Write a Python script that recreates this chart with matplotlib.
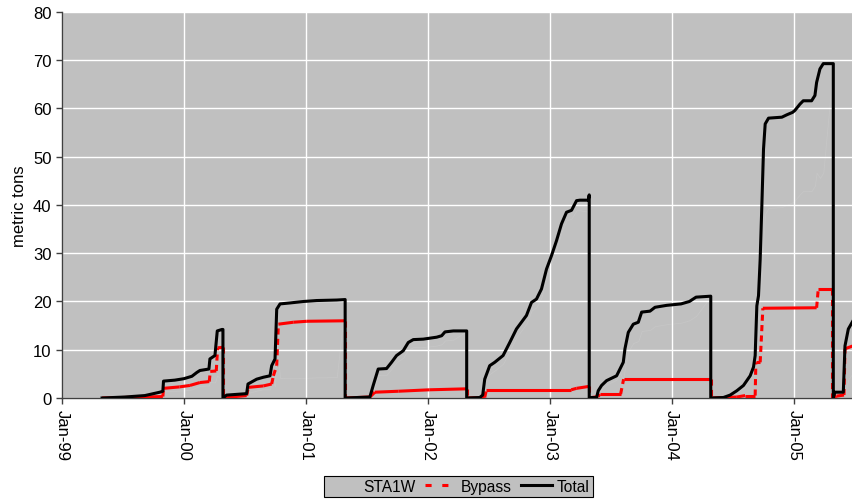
import numpy as np
import pandas as pd
import matplotlib
matplotlib.use("Agg")
import matplotlib.pyplot as plt
import matplotlib.dates as mdates
from matplotlib.collections import LineCollection
from matplotlib.lines import Line2D
from matplotlib.patches import Patch

plt.rcParams["font.family"] = ["Liberation Sans", "DejaVu Sans"]

# cumulative load per water year (May - April), metric tons
total_dates = [
    "1999-05-01", "1999-07-08", "1999-09-06", "1999-10-21", "1999-10-30", "1999-11-01",
    "1999-12-05", "2000-01-01", "2000-01-25", "2000-02-09", "2000-02-18", "2000-03-16",
    "2000-03-19", "2000-04-03", "2000-04-10", "2000-04-24", "2000-04-27", "2000-04-27",
    "2000-05-08", "2000-07-07", "2000-07-11", "2000-08-06", "2000-08-26", "2000-09-15",
    "2000-09-20", "2000-09-30", "2000-10-05", "2000-10-15", "2000-11-14", "2000-12-24",
    "2001-02-02", "2001-04-03", "2001-04-28", "2001-04-28",
    "2001-07-11", "2001-07-21", "2001-08-05", "2001-08-30", "2001-09-14", "2001-09-29",
    "2001-10-19", "2001-11-03", "2001-11-18", "2001-12-18", "2002-01-27", "2002-02-11",
    "2002-02-21", "2002-03-18", "2002-04-27", "2002-04-27",
    "2002-06-05", "2002-06-14", "2002-06-20", "2002-07-05", "2002-07-20", "2002-08-14",
    "2002-09-03", "2002-09-23", "2002-10-23", "2002-11-07", "2002-11-22", "2002-12-07",
    "2002-12-22", "2003-01-06", "2003-01-21", "2003-02-05", "2003-02-20", "2003-03-07",
    "2003-03-22", "2003-04-01", "2003-04-26", "2003-04-29", "2003-04-29",
    "2003-05-06", "2003-05-21", "2003-05-26", "2003-06-05", "2003-06-20", "2003-07-05",
    "2003-07-20", "2003-07-30", "2003-08-09", "2003-08-14", "2003-08-24", "2003-09-08",
    "2003-09-23", "2003-10-03", "2003-10-28", "2003-11-12", "2003-12-17", "2004-01-29",
    "2004-02-23", "2004-03-14", "2004-04-27", "2004-04-27",
    "2004-06-04", "2004-06-24", "2004-07-14", "2004-08-03", "2004-08-23", "2004-09-02",
    "2004-09-07", "2004-09-12", "2004-09-17", "2004-09-22", "2004-09-27", "2004-10-02",
    "2004-10-07", "2004-10-17", "2004-11-26", "2004-12-11", "2004-12-28", "2005-01-04",
    "2005-01-19", "2005-01-29", "2005-02-23", "2005-03-05", "2005-03-10", "2005-03-20",
    "2005-03-30", "2005-04-29", "2005-04-29",
    "2005-05-04", "2005-05-29", "2005-06-03", "2005-06-13", "2005-06-27",
]
total_vals = [
    0.0, 0.2, 0.5, 1.2, 1.4, 3.5,
    3.7, 4.0, 4.5, 5.3, 5.7, 6.0,
    8.1, 8.8, 13.9, 14.2, 14.2, 0.0,
    0.6, 0.9, 2.9, 3.9, 4.3, 4.6,
    6.7, 8.1, 18.4, 19.5, 19.7, 20.0,
    20.2, 20.3, 20.4, 0.0,
    0.2, 2.6, 6.0, 6.1, 7.4, 8.8,
    9.8, 11.5, 12.1, 12.2, 12.6, 12.9,
    13.7, 13.9, 13.9, 0.0,
    0.1, 0.6, 3.9, 6.7, 7.4, 8.8,
    11.5, 14.3, 17.1, 19.8, 20.5, 22.6,
    26.7, 29.5, 32.6, 36.1, 38.5, 38.9,
    40.9, 41.0, 41.0, 42.1, 0.0,
    0.1, 0.1, 1.5, 2.6, 3.6, 4.1,
    4.6, 6.0, 7.4, 10.2, 13.6, 15.3,
    15.7, 17.8, 18.0, 18.8, 19.2, 19.5,
    20.0, 20.9, 21.1, 0.0,
    0.1, 0.6, 1.5, 2.6, 4.6, 6.4,
    8.8, 19.1, 21.2, 28.8, 39.9, 51.6,
    56.8, 58.0, 58.2, 58.7, 59.2, 59.6,
    60.9, 61.6, 61.6, 62.7, 65.4, 68.2,
    69.3, 69.3, 0.0,
    1.2, 1.2, 10.8, 14.3, 16.0,
]

bypass_dates = [
    "1999-05-01", "1999-10-30", "1999-11-01", "1999-12-19", "2000-01-19", "2000-02-18",
    "2000-03-17", "2000-03-20", "2000-04-07", "2000-04-11", "2000-04-27", "2000-04-27",
    "2000-05-01", "2000-07-07", "2000-07-12", "2000-08-26", "2000-09-20", "2000-09-25",
    "2000-10-05", "2000-10-10", "2000-11-24", "2001-01-03", "2001-04-28", "2001-04-28",
    "2001-07-11", "2001-07-26", "2001-10-05", "2002-01-06", "2002-04-27", "2002-04-27",
    "2002-06-20", "2002-06-25", "2003-03-06", "2003-03-22", "2003-04-28", "2003-04-28",
    "2003-05-26", "2003-05-31", "2003-08-01", "2003-08-10", "2004-04-27", "2004-04-27",
    "2004-07-14", "2004-08-08", "2004-09-07", "2004-09-09", "2004-09-22", "2004-09-30",
    "2005-03-10", "2005-03-15", "2005-04-25", "2005-04-25",
    "2005-05-09", "2005-05-31", "2005-06-03", "2005-06-27",
]
bypass_vals = [
    0.0, 0.3, 2.0, 2.3, 2.6, 3.2,
    3.4, 5.5, 5.6, 10.4, 10.5, 0.0,
    0.1, 0.5, 2.2, 2.5, 2.9, 4.6,
    6.7, 15.3, 15.7, 15.9, 16.0, 0.0,
    0.2, 1.2, 1.4, 1.7, 1.9, 0.0,
    0.1, 1.7, 1.7, 2.0, 2.4, 0.0,
    0.3, 0.8, 0.8, 3.9, 3.9, 0.0,
    0.2, 0.5, 0.5, 7.4, 7.4, 18.6,
    18.7, 22.6, 22.6, 0.0,
    0.4, 0.6, 10.2, 10.8,
]

yticks = list(range(0, 81, 10))

t_x = mdates.date2num(pd.to_datetime(total_dates))
t_y = np.array(total_vals)
b_x = mdates.date2num(pd.to_datetime(bypass_dates))
b_y = np.array(bypass_vals)
# STA1W share = total less bypass
sta_y = t_y - np.interp(t_x, b_x, b_y)

fig = plt.figure(figsize=(8.53, 5.02), dpi=100)
ax = fig.add_axes([0.0727, 0.2052, 0.9273, 0.7689])
ax.set_facecolor("#C0C0C0")

ax.set_xlim(mdates.date2num(pd.Timestamp("1999-01-01")),
            mdates.date2num(pd.Timestamp("2005-06-27")))
ax.set_ylim(0, 80)

ax.fill_between(t_x, 0, np.clip(sta_y, 0, None), facecolor="#C0C0C0",
                edgecolor="#C6C6C6", lw=0.6, zorder=0.2)

ax.set_axisbelow(True)
ax.grid(True, color="white", lw=1.0)

# bypass: jumps are dashed, gradual parts read as solid
pts = ax.transData.transform(np.column_stack([b_x, b_y]))
segs, styles = [], []
for i in range(len(b_x) - 1):
    segs.append([(b_x[i], b_y[i]), (b_x[i + 1], b_y[i + 1])])
    dx = abs(pts[i + 1, 0] - pts[i, 0])
    dy = abs(pts[i + 1, 1] - pts[i, 1])
    styles.append((0, (2.0, 1.4)) if dy > 3 * dx and dy > 6 else "solid")
lc = LineCollection(segs, colors="#FF0000", linewidths=2.2, linestyles=styles,
                    capstyle="butt", joinstyle="round", zorder=3)
ax.add_collection(lc)

ax.plot(t_x, t_y, color="black", lw=2.2, solid_joinstyle="round", zorder=4)

ax.set_yticks(yticks)
ax.xaxis.set_major_locator(mdates.YearLocator())
ax.xaxis.set_major_formatter(mdates.DateFormatter("%b-%y"))
ax.tick_params(axis="both", direction="out", length=4, width=1, color="#404040",
               labelsize=12, labelcolor="black")
ax.tick_params(axis="x", labelrotation=-90, pad=4)
for lbl in ax.get_xticklabels():
    lbl.set_va("top")
    lbl.set_ha("center")
for side in ("top", "right"):
    ax.spines[side].set_visible(False)
for side in ("left", "bottom"):
    ax.spines[side].set_color("#404040")
    ax.spines[side].set_linewidth(1.0)

ax.set_ylabel("metric tons", fontsize=12, labelpad=4)

handles = [
    Patch(facecolor="#C0C0C0", edgecolor="#C0C0C0"),
    Line2D([], [], color="#FF0000", lw=2.2, dashes=(2.0, 3.5)),
    Line2D([], [], color="black", lw=2.2),
]
leg = fig.legend(handles, ["STA1W", "Bypass", "Total"], loc="center",
                 bbox_to_anchor=(0.538, 0.029), ncol=3, fontsize=11.2,
                 frameon=True, fancybox=False, framealpha=1, edgecolor="black",
                 facecolor="#C0C0C0", borderpad=0.22, handlelength=2.0,
                 handletextpad=0.3, columnspacing=0.6)
leg.get_frame().set_linewidth(0.8)

fig.savefig("out.png", dpi=100)
